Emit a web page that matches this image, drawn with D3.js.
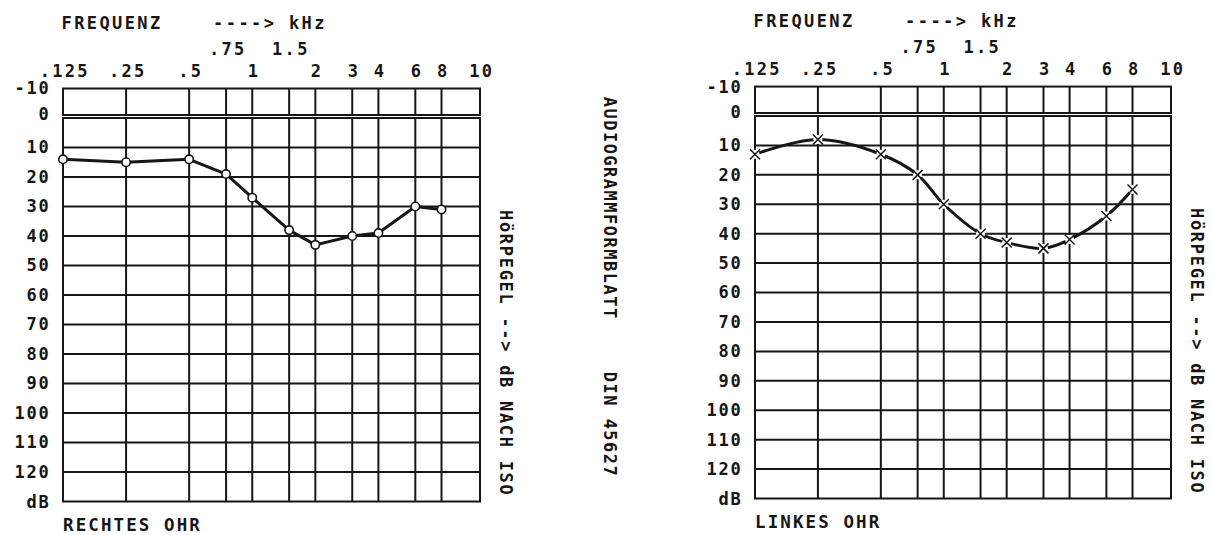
<!DOCTYPE html>
<html><head><meta charset="utf-8">
<script src="https://cdn.jsdelivr.net/npm/d3@7"></script>
<style>
html,body{margin:0;padding:0;background:#fff;}
svg{display:block;}
text{font-family:"DejaVu Sans Mono",monospace;font-weight:bold;fill:#161616;white-space:pre;}
</style></head><body>
<svg id="chart" width="1212" height="535"></svg>
<script>
// ---- data ----
const freqGrid = [0.125, 0.25, 0.5, 0.75, 1, 1.5, 2, 3, 4, 6, 8, 10];
const freqTickValues = [0.125, 0.25, 0.5, 1, 2, 3, 4, 6, 8, 10];
const freqTickLabels = [".125", ".25", ".5", "1", "2", "3", "4", "6", "8", "10"];
const freqTickValuesUpper = [0.75, 1.5];
const freqTickLabelsUpper = [".75", "1.5"];
const dbGrid = [0, 10, 20, 30, 40, 50, 60, 70, 80, 90, 100, 110, 120, 130];
const dbTickValues = [-10, 0, 10, 20, 30, 40, 50, 60, 70, 80, 90, 100, 110, 120, 130];
const dbTickLabels = ["-10", "0", "10", "20", "30", "40", "50", "60", "70", "80", "90", "100", "110", "120", "dB"];
const measuredFreqs = [0.125, 0.25, 0.5, 0.75, 1, 1.5, 2, 3, 4, 6, 8];
const rightEarDb = [14, 15, 14, 19, 27, 38, 43, 40, 39, 30, 31];
const leftEarDb = [13, 8, 13, 20, 30, 40, 43, 45, 42, 34, 25];
const titleText = "FREQUENZ    ----> kHz";
const sideText = "HöRPEGEL --> dB NACH ISO";
const formText = "AUDIOGRAMMFORMBLATT";
const dinText = "DIN 45627";

// ---- layout ----
const svg = d3.select("#chart");
const ink = "#161616";
const FS = 17;
const panels = [
  {x: [63, 441.5, 480], y: [118, 501.5], label: "RECHTES OHR", values: rightEarDb, marker: "circle", curve: d3.curveLinear, sideY: 210},
  {x: [755, 1132.5, 1171], y: [116, 498.5], label: "LINKES OHR", values: leftEarDb, marker: "cross", curve: d3.curveCatmullRom.alpha(0.5), sideY: 208}
];

panels.forEach(p => {
  const x = d3.scaleLog().base(2).domain([0.125, 8, 10]).range(p.x);
  const y = d3.scaleLinear().domain([0, 130]).range(p.y);
  const g = svg.append("g");
  const gap = 3;
  const topBottom = y(0) - gap;

  g.append("rect").attr("x", x(0.125)).attr("y", y(-10))
    .attr("width", x(10) - x(0.125)).attr("height", topBottom - y(-10))
    .attr("fill", "none").attr("stroke", ink).attr("stroke-width", 2);
  g.append("rect").attr("x", x(0.125)).attr("y", y(0))
    .attr("width", x(10) - x(0.125)).attr("height", y(130) - y(0))
    .attr("fill", "none").attr("stroke", ink).attr("stroke-width", 2);

  freqGrid.slice(1, -1).forEach(f => {
    g.append("line").attr("x1", x(f)).attr("x2", x(f)).attr("y1", y(-10)).attr("y2", topBottom)
      .attr("stroke", ink).attr("stroke-width", 2);
    g.append("line").attr("x1", x(f)).attr("x2", x(f)).attr("y1", y(0)).attr("y2", y(130))
      .attr("stroke", ink).attr("stroke-width", 2);
  });
  dbGrid.slice(1, -1).forEach(d => {
    g.append("line").attr("x1", x(0.125)).attr("x2", x(10)).attr("y1", y(d)).attr("y2", y(d))
      .attr("stroke", ink).attr("stroke-width", 2);
  });

  const styleAxis = (sel, ls) => {
    sel.select(".domain").remove();
    sel.selectAll(".tick line").remove();
    sel.selectAll("text").attr("font-family", "DejaVu Sans Mono").attr("font-weight", "bold")
      .attr("font-size", FS).attr("fill", ink).style("letter-spacing", ls + "px");
  };

  const yAxis = g.append("g").attr("transform", `translate(${x(0.125)},0)`)
    .call(d3.axisLeft(y).tickValues(dbTickValues).tickSize(0).tickPadding(12.5)
      .tickFormat((d, i) => dbTickLabels[i]));
  styleAxis(yAxis, 1.8);
  yAxis.selectAll(".tick").filter(d => d === 0).attr("transform", `translate(0,${y(0) - 3})`);
  yAxis.selectAll(".tick").filter(d => d === 130).attr("transform", `translate(0,${y(130) + 1.5})`);

  const xAxis = g.append("g").attr("transform", `translate(0,${y(-10)})`)
    .call(d3.axisTop(x).tickValues(freqTickValues).tickSize(0).tickPadding(12)
      .tickFormat((d, i) => freqTickLabels[i]));
  styleAxis(xAxis, 2.3);
  xAxis.selectAll("text").attr("dx", 1.2);
  const xAxis2 = g.append("g").attr("transform", `translate(0,${y(-10)})`)
    .call(d3.axisTop(x).tickValues(freqTickValuesUpper).tickSize(0).tickPadding(33.5)
      .tickFormat((d, i) => freqTickLabelsUpper[i]));
  styleAxis(xAxis2, 2.3);
  xAxis2.selectAll("text").attr("dx", 1.2);

  g.append("text").attr("x", x(0.125) - 1.5).attr("y", y(-10) - 60)
    .attr("font-size", FS).style("letter-spacing", "2.4px").text(titleText);
  g.append("text").attr("x", x(0.125)).attr("y", y(130) + 29.5)
    .attr("font-size", 17.5).style("letter-spacing", "2.1px").text(p.label);
  g.append("text").attr("transform", `translate(${x(10) + 26},${p.sideY}) rotate(90)`)
    .attr("dy", "0.36em").attr("font-size", FS).style("letter-spacing", "1.7px").text(sideText);

  const line = d3.line().x((d, i) => x(measuredFreqs[i])).y(d => y(d)).curve(p.curve);
  g.append("path").datum(p.values).attr("d", line)
    .attr("fill", "none").attr("stroke", ink).attr("stroke-width", 3).attr("stroke-linejoin", "round");

  if (p.marker === "circle") {
    g.selectAll("circle.m").data(p.values).join("circle").attr("class", "m")
      .attr("cx", (d, i) => x(measuredFreqs[i])).attr("cy", d => y(d)).attr("r", 4.2)
      .attr("fill", "#fff").attr("stroke", ink).attr("stroke-width", 1.6);
  } else {
    const s = 5;
    g.selectAll("circle.mask").data(p.values).join("circle").attr("class", "mask")
      .attr("cx", (d, i) => x(measuredFreqs[i])).attr("cy", d => y(d)).attr("r", 4.5)
      .attr("fill", "#fff");
    g.selectAll("path.m").data(p.values).join("path").attr("class", "m")
      .attr("d", (d, i) => {
        const cx = x(measuredFreqs[i]), cy = y(d);
        return `M${cx - s},${cy - s}L${cx + s},${cy + s}M${cx - s},${cy + s}L${cx + s},${cy - s}`;
      })
      .attr("fill", "none").attr("stroke", ink).attr("stroke-width", 1.5);
  }
});

svg.append("text").attr("transform", "translate(610.5,96.7) rotate(90)")
  .attr("dy", "0.36em").attr("font-size", FS).style("letter-spacing", "1.5px").text(formText);
svg.append("text").attr("transform", "translate(610.5,371.7) rotate(90)")
  .attr("dy", "0.36em").attr("font-size", FS).style("letter-spacing", "1.5px").text(dinText);
</script>
</body></html>
